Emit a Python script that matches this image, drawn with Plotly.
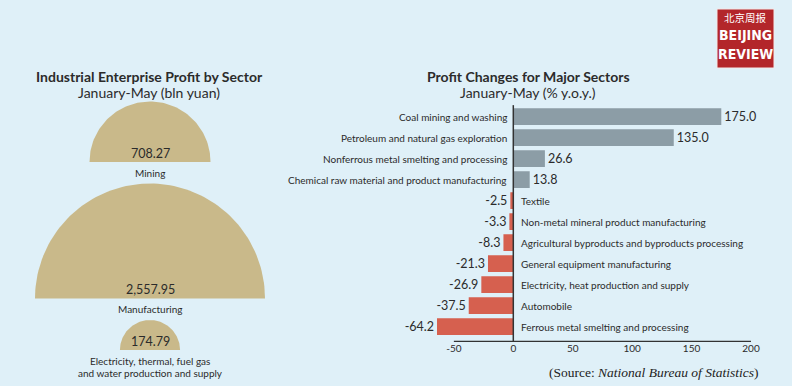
import math
import plotly.graph_objects as go

W, H = 792, 386
BG = "#dff0f8"
TXT = "#2b2b2b"
FONT = "Lato"

# ---------------- data ----------------
# Left panel: industrial enterprise profit by sector (bln yuan)
sectors = ["Mining", "Manufacturing",
           "Electricity, thermal, fuel gas<br>and water production and supply"]
profits = [708.27, 2557.95, 174.79]
profit_labels = ["708.27", "2,557.95", "174.79"]

# Right panel: profit changes for major sectors (% y.o.y.)
categories = [
    "Coal mining and washing",
    "Petroleum and natural gas exploration",
    "Nonferrous metal smelting and processing",
    "Chemical raw material and product manufacturing",
    "Textile",
    "Non-metal mineral product manufacturing",
    "Agricultural byproducts and byproducts processing",
    "General equipment manufacturing",
    "Electricity, heat production and supply",
    "Automobile",
    "Ferrous metal smelting and processing",
]
changes = [175.0, 135.0, 26.6, 13.8, -2.5, -3.3, -8.3, -21.3, -26.9, -37.5, -64.2]
tick_vals = [-50, 0, 50, 100, 150, 200]
tick_text = ["-50", "0", "50", "100", "150", "200"]

# ---------------- helpers ----------------
def fx(px):
    return px / W

def fy(py):
    return 1 - py / H

fig = go.Figure()

# ---------------- left panel: semicircles (area ~ value) ----------------
k = 115 / math.sqrt(max(profits))
cx = 150
top = 101.5
gap = 21.5
annotations = []
for name, val, lab in zip(sectors, profits, profit_labels):
    r = k * math.sqrt(val)
    base = top + r
    n = 90
    xs = [cx + r * math.cos(math.pi * i / n) for i in range(n + 1)]
    ys = [base - r * math.sin(math.pi * i / n) for i in range(n + 1)]
    xs.append(xs[0]); ys.append(ys[0])
    fig.add_trace(go.Scatter(x=xs, y=ys, xaxis="x2", yaxis="y2", mode="lines",
                             fill="toself", fillcolor="#c9b98a",
                             line=dict(width=0, color="#c9b98a"),
                             hoverinfo="skip", showlegend=False))
    annotations.append(dict(x=cx, y=base - 9, xref="x2", yref="y2", text=lab,
                            showarrow=False, xanchor="center", yanchor="middle",
                            font=dict(family=FONT, size=12.5, color=TXT)))
    for j, line in enumerate(name.split("<br>")):
        annotations.append(dict(x=cx, y=base + 10.5 + 12 * j, xref="x2", yref="y2", text=line,
                                showarrow=False, xanchor="center", yanchor="middle",
                                font=dict(family=FONT, size=10, color=TXT)))
    top = base + gap

# ---------------- right panel: bars ----------------
ypos = list(range(len(categories)))
colors = ["#8c9da6" if v >= 0 else "#d6604f" for v in changes]
fig.add_trace(go.Bar(x=changes, y=ypos, orientation="h", marker=dict(color=colors, line=dict(width=0)),
                     width=0.8, text=[f"{v:.1f}" for v in changes], textposition="outside",
                     textfont=dict(family=FONT, size=12.5, color=TXT), cliponaxis=False,
                     constraintext="none", hoverinfo="skip", showlegend=False))

for cat, v, yy in zip(categories, changes, ypos):
    if v >= 0:
        annotations.append(dict(x=0, y=yy, xref="x", yref="y", text=cat, showarrow=False,
                                xanchor="right", yanchor="middle", xshift=-4,
                                font=dict(family=FONT, size=10, color=TXT)))
    else:
        annotations.append(dict(x=0, y=yy, xref="x", yref="y", text=cat, showarrow=False,
                                xanchor="left", yanchor="middle", xshift=6,
                                font=dict(family=FONT, size=10, color=TXT)))

# Titles
annotations += [
    dict(x=fx(149), y=fy(76), xref="paper", yref="paper", text="<b>Industrial Enterprise Profit by Sector</b>",
         showarrow=False, xanchor="center", yanchor="middle", font=dict(family=FONT, size=14, color=TXT)),
    dict(x=fx(149), y=fy(93), xref="paper", yref="paper", text="January-May (bln yuan)",
         showarrow=False, xanchor="center", yanchor="middle", font=dict(family=FONT, size=14, color=TXT)),
    dict(x=fx(528), y=fy(76), xref="paper", yref="paper", text="<b>Profit Changes for Major Sectors</b>",
         showarrow=False, xanchor="center", yanchor="middle", font=dict(family=FONT, size=14, color=TXT)),
    dict(x=fx(528), y=fy(93), xref="paper", yref="paper", text="January-May (% y.o.y.)",
         showarrow=False, xanchor="center", yanchor="middle", font=dict(family=FONT, size=14, color=TXT)),
    dict(x=fx(761), y=fy(372), xref="paper", yref="paper",
         text="(Source: <i>National Bureau of Statistics</i>)",
         showarrow=False, xanchor="right", yanchor="middle",
         font=dict(family="Liberation Serif", size=13.5, color="#222")),
    # logo texts
    dict(x=fx(745.5), y=fy(18), xref="paper", yref="paper", text="北京周报",
         showarrow=False, xanchor="center", yanchor="middle",
         font=dict(family="Noto Sans CJK SC", size=10.5, color="white")),
    dict(x=fx(745.5), y=fy(35), xref="paper", yref="paper", text="<b>BEIJING</b>",
         showarrow=False, xanchor="center", yanchor="middle",
         font=dict(family="DejaVu Sans Condensed", size=14, color="white")),
    dict(x=fx(745.5), y=fy(54), xref="paper", yref="paper", text="<b>REVIEW</b>",
         showarrow=False, xanchor="center", yanchor="middle",
         font=dict(family="DejaVu Sans Condensed", size=14, color="white")),
]

shapes = [
    # zero line
    dict(type="line", xref="x", yref="y domain", x0=0, x1=0, y0=0, y1=1,
         line=dict(color="#333", width=1.5)),
    # x axis line from -50 to 200
    dict(type="line", xref="x", yref="y domain", x0=tick_vals[0], x1=tick_vals[-1], y0=0, y1=0,
         line=dict(color="#333", width=1.2)),
    # logo
    dict(type="rect", xref="paper", yref="paper", x0=fx(717), x1=fx(774), y0=fy(68), y1=fy(9),
         fillcolor="#b3262a", line=dict(color="#f3e9e9", width=1)),
]

# axes geometry
zero_px, ppu = 513.3, 1.1885
x_dom = (425, 765)
x_rng = [(x_dom[0] - zero_px) / ppu, (x_dom[1] - zero_px) / ppu]
y_top_px, y_bot_px = 105.15, 341.4

fig.update_layout(
    width=W, height=H, margin=dict(l=0, r=0, t=0, b=0),
    paper_bgcolor=BG, plot_bgcolor="rgba(0,0,0,0)",
    showlegend=False, annotations=annotations, shapes=shapes,
    xaxis=dict(domain=[fx(x_dom[0]), fx(x_dom[1])], range=x_rng, showgrid=False, zeroline=False,
               showline=False, tickvals=tick_vals, ticktext=tick_text, ticks="",
               tickfont=dict(family=FONT, size=10, color=TXT), fixedrange=True),
    yaxis=dict(domain=[fy(y_bot_px), fy(y_top_px)], range=[10.7, -0.55], showgrid=False,
               zeroline=False, showticklabels=False, showline=False, fixedrange=True),
    xaxis2=dict(domain=[0, 1], range=[0, W], visible=False, fixedrange=True, anchor="y2"),
    yaxis2=dict(domain=[0, 1], range=[H, 0], visible=False, fixedrange=True, anchor="x2"),
    bargap=0.2,
)

fig.write_html("out.html", config={"displayModeBar": False},
               post_script="document.body.style.margin='0';document.body.style.background='%s';" % BG)
